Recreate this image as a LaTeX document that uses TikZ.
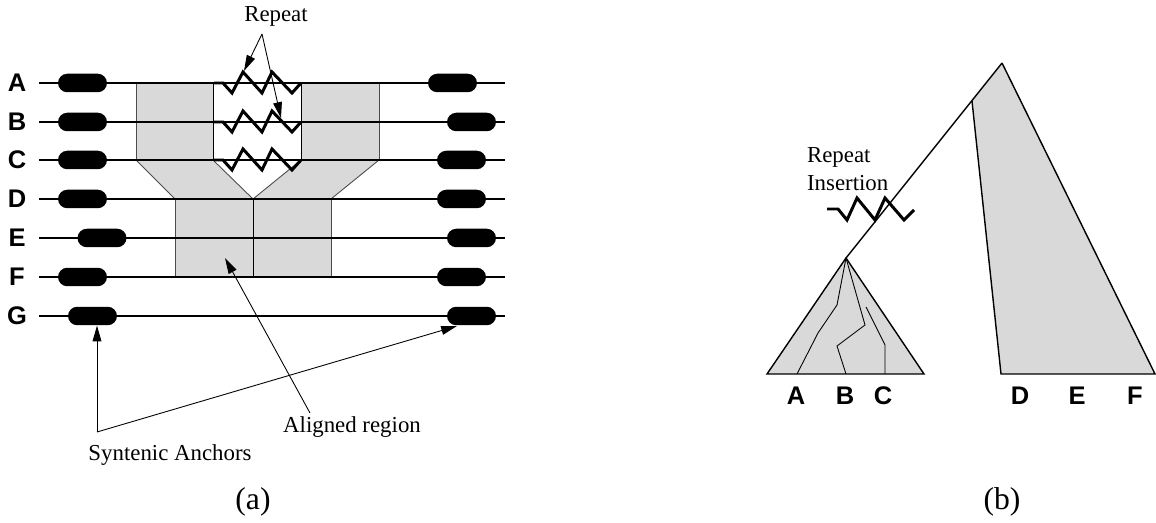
\documentclass[tikz,border=0pt]{standalone}
\usepackage{fontspec}
\setmainfont{Liberation Serif}
\setsansfont{Liberation Sans}
\usetikzlibrary{positioning,shapes.misc,arrows.meta}
\definecolor{regiongray}{gray}{0.85}
\tikzset{
anchorpill/.style={rounded rectangle, fill=black, minimum width=0.98cm, minimum height=0.37cm, inner sep=0pt},
rowlabel/.style={font=\sffamily\bfseries\fontsize{14.5}{14.5}\selectfont},
textlabel/.style={font=\fontsize{13}{16}\selectfont, inner sep=1pt},
sublabel/.style={font=\fontsize{18}{18}\selectfont},
region/.style={fill=regiongray, draw=black!70, line width=0.5pt},
zigzag/.style={line width=1.7pt, line join=miter},
pointer/.style={-{Triangle[length=9pt,width=5pt]}, line width=0.5pt},
tree/.style={line width=0.8pt}
}

\begin{document}
\begin{tikzpicture}[x=0.02cm,y=-0.02cm]
\useasboundingbox (0,0) rectangle (1156,523);

% (a) aligned regions
\draw[region] (136,83) rectangle (213,160);
\draw[region] (301,83) rectangle (379,160);
\draw[region] (136,160) -- (175,199) -- (253,199) -- (213,160) -- cycle;
\draw[region] (301,160) -- (253,199) -- (331,199) -- (379,160) -- cycle;
\draw[region] (175,199) rectangle (331,277);
\draw[line width=0.45pt] (253,199) -- (253,277);
\draw[line width=0.45pt] (213,83) rectangle (301,160);

% (a) rows and anchors
\foreach \row/\y/\l/\r in {A/83/82.5/452.5, B/122/82.5/471.5, C/160/82.5/461.5, D/199/82.5/461.5, E/238/102/471.5, F/277/82.5/461.5, G/316/92.5/471.5} {
  \node[rowlabel] (lab\row) at (17,\y) {\row};
  \coordinate (start\row) at (39,\y);
  \coordinate (end\row) at (505,\y);
  \draw[line width=1.1pt] (start\row) -- (end\row);
  \node[anchorpill] (left\row) at (\l,\y) {};
  \node[anchorpill] (right\row) at (\r,\y) {};
}

% repeats
\foreach \y in {83,122,160} {
  \draw[zigzag] (214,\y) -- (223,\y) -- (232,{\y+10}) -- (243,{\y-11}) -- (262,{\y+10}) -- (272,{\y-11}) -- (292,{\y+10}) -- (301,\y);
}

\node[textlabel] (repeat) at (276,16) {Repeat};
\coordinate (repeatfoot) at (262,34);
\coordinate (zigA) at (244,71);
\coordinate (zigB) at (281,118);
\draw[pointer] (repeatfoot) -- (zigA);
\draw[pointer] (repeatfoot) -- (zigB);

\node[textlabel] (aligned) at (352,427) {Aligned region};
\coordinate (alignedfoot) at (310,413);
\coordinate (alignedtip) at (225,258);
\draw[pointer] (alignedfoot) -- (alignedtip);

\node[textlabel] (syntenic) at (170,455) {Syntenic Anchors};
\coordinate (corner) at (97,432);
\coordinate (anchortip) at (457,326);
\draw[pointer] (corner) -- (corner |- leftG.south);
\draw[pointer] (corner) -- (anchortip);

\node[sublabel] (capa) at (253,502) {(a)};

% (b) tree
\coordinate (root) at (1002,63);
\coordinate (split) at (972,101);
\coordinate (subroot) at (846,258);
\fill[regiongray] (split) -- (root) -- (1155,374) -- (1001,374) -- cycle;
\draw[tree] (split) -- (1001,374) -- (1155,374) -- (root);
\draw[tree] (root) -- (subroot);
\draw[tree, fill=regiongray] (subroot) -- (767,374) -- (924,374) -- cycle;
\draw[line width=0.5pt] (subroot) -- (837,305) -- (818,333) -- (797,374);
\draw[line width=0.5pt] (subroot) -- (865,325) -- (837,346) -- (846,374);
\draw[line width=0.5pt] (866,307) -- (885,345) -- (885,374);

\foreach \leaf/\x in {A/796, B/845, C/883, D/1020, E/1077, F/1135} {
  \node[rowlabel] (leaf\leaf) at (\x,396) {\leaf};
}

\node[textlabel, align=left, anchor=west] (insertion) at (805,169) {Repeat\\Insertion};
\draw[zigzag] (827,209) -- (838,209) -- (847,220) -- (857,198) -- (875,220) -- (885,198) -- (904,220) -- (914,210);

\node[sublabel] (capb) at (1002,502) {(b)};
\end{tikzpicture}
\end{document}
